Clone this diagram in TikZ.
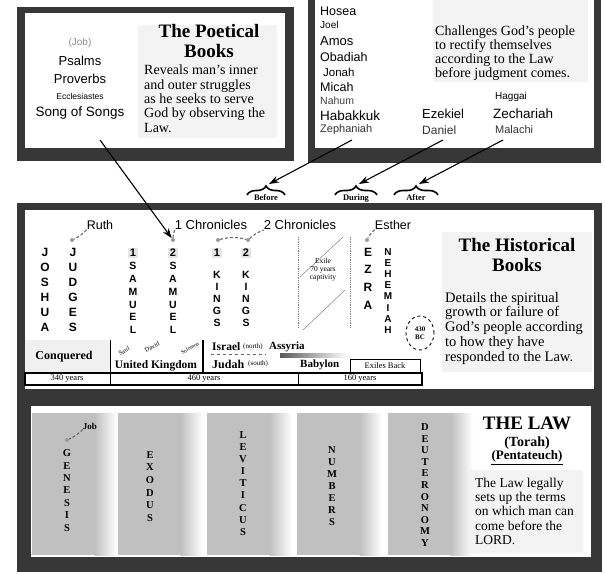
\documentclass[tikz,border=0pt]{standalone}
\usepackage{fontspec}
\setmainfont{Liberation Serif}
\newfontfamily\sansf{Liberation Sans}
\usetikzlibrary{decorations.pathreplacing,arrows.meta,shapes.geometric}
\definecolor{framec}{RGB}{55,55,55}
\definecolor{panelbg}{RGB}{243,243,243}
\definecolor{colgray}{RGB}{192,192,192}
\definecolor{dashgray}{RGB}{105,105,105}
\newcommand\fs[2]{\fontsize{#1}{#2}\selectfont}
\begin{document}
\begin{tikzpicture}[x=1pt,y=-1pt,
  panel/.style={fill=panelbg,draw=none},
  slbl/.style={font=\sansf\fs{13}{15},inner sep=0pt,anchor=west},
  vsans/.style={font=\sansf\bfseries\fs{12}{15},align=center,inner sep=0pt},
  vsanss/.style={font=\sansf\bfseries\fs{10.5}{12.8},align=center,inner sep=0pt},
  titlef/.style={font=\bfseries\fs{19}{20},align=center,inner sep=0pt},
  bodyt/.style={font=\fs{14}{14.3},align=left,anchor=north west,inner sep=0pt},
  vserif/.style={font=\bfseries\fs{10.5}{12.4},align=center,inner sep=0pt},
  link/.style={draw=dashgray,line width=1.1pt,dash pattern=on 3pt off 2pt},
  dotn/.style={circle,fill=black!40,inner sep=0pt,minimum size=4pt},
  arr/.style={line width=1.1pt,-{Stealth[length=10pt,width=7pt]}},
  brc/.style={decorate,decoration={brace,amplitude=9pt},line width=1.6pt},
  numbox/.style={fill=black!10,font=\sansf\bfseries\fs{11}{12},inner sep=1.5pt},
  tiny/.style={font=\fs{8.5}{9},inner sep=0pt},
  tbl/.style={font=\bfseries\fs{12}{13},inner sep=0pt}
]
\useasboundingbox (0,0) rectangle (605,573);
\fill[white] (0,0) rectangle (605,573);

% ---------- frames ----------
\fill[framec] (17,7) rectangle (294,161);
\fill[white] (25,13) rectangle (285,148);
\fill[framec] (308,-10) rectangle (601,163);
\fill[white] (315,-10) rectangle (594,148);
\fill[framec] (17,203) rectangle (602,572);
\fill[white] (25,210) rectangle (594,389);
\fill[white] (31,406) rectangle (591,557);

% ---------- Poetical books ----------
\fill[panelbg] (138,25) rectangle (277,138);
\node[font=\sansf\fs{10}{11},text=black!45,inner sep=0pt] (job) at (80,43) {(Job)};
\node[font=\sansf\fs{13}{15},inner sep=0pt] (psalms) at (80,61) {Psalms};
\node[font=\sansf\fs{13}{15},inner sep=0pt] (proverbs) at (80,79) {Proverbs};
\node[font=\sansf\fs{8.5}{10},inner sep=0pt] (eccl) at (80,96) {Ecclesiastes};
\node[font=\sansf\fs{13.5}{15},inner sep=0pt] (song) at (80,113) {Song of Songs};
\node[titlef] (poettitle) at (209,41) {The Poetical\\Books};
\node[bodyt] (poetbody) at (144,65) {Reveals man's inner\\and outer struggles\\as he seeks to serve\\God by observing the\\Law.};
\coordinate (poetout) at (100,140);

% ---------- Prophets ----------
\fill[panelbg] (433,-5) rectangle (588,82);
\node[bodyt,font=\fs{14}{14}] (prophbody) at (435,26) {Challenges God's people\\to rectify themselves\\according to the Law\\before judgment comes.};
\node[slbl,font=\sansf\fs{12.5}{14}] (hosea) at (320,11) {Hosea};
\node[slbl,font=\sansf\fs{10}{12}] (joel) at (320,25) {Joel};
\node[slbl,font=\sansf\fs{13}{14}] (amos) at (320,41) {Amos};
\node[slbl,font=\sansf\fs{12.5}{14}] (obadiah) at (320,57) {Obadiah};
\node[slbl,font=\sansf\fs{11.5}{14}] (jonah) at (323,72) {Jonah};
\node[slbl,font=\sansf\fs{12.5}{14}] (micah) at (320,87) {Micah};
\node[slbl,font=\sansf\fs{10.5}{12},text=black!75] (nahum) at (320,101) {Nahum};
\node[slbl,font=\sansf\fs{13.5}{14}] (habakkuk) at (320,116) {Habakkuk};
\node[slbl,font=\sansf\fs{11}{12},text=black!80] (zephaniah) at (320,130) {Zephaniah};
\node[slbl,font=\sansf\fs{13}{14}] (ezekiel) at (422,114) {Ezekiel};
\node[slbl,font=\sansf\fs{12}{14},text=black!80] (daniel) at (422,130) {Daniel};
\node[slbl,font=\sansf\fs{10}{12}] (haggai) at (495,97) {Haggai};
\node[slbl,font=\sansf\fs{13.5}{14}] (zechariah) at (493,114) {Zechariah};
\node[slbl,font=\sansf\fs{11}{12},text=black!80] (malachi) at (495,130) {Malachi};
\coordinate (zephout) at (352,140);
\coordinate (danout) at (443,140);
\coordinate (malout) at (503,140);

% ---------- Before / During / After ----------
\draw[brc] (247,195) -- (285,195);
\draw[brc] (335,195) -- (377,195);
\draw[brc] (394,195) -- (438,195);
\coordinate (btip) at (269,184);
\coordinate (dtip) at (359,184);
\coordinate (atip) at (419,184);
\node[font=\bfseries\fs{8.5}{9},inner sep=0pt] (before) at (266,198) {Before};
\node[font=\bfseries\fs{8.5}{9},inner sep=0pt] (during) at (356,198) {During};
\node[font=\bfseries\fs{8.5}{9},inner sep=0pt] (after) at (416,198) {After};

% ---------- Historical books ----------
\node[font=\sansf\fs{12.5}{14},inner sep=0pt] (ruth) at (100,225) {Ruth};
\node[font=\sansf\fs{13}{14},inner sep=0pt] (chr1) at (211,225) {1 Chronicles};
\node[font=\sansf\fs{13}{14},inner sep=0pt] (chr2) at (300,225) {2 Chronicles};
\node[font=\sansf\fs{12.5}{14},inner sep=0pt] (esther) at (393,225) {Esther};
\node[dotn] (dru) at (72,240) {};
\node[dotn] (dsa) at (173,240) {};
\node[dotn] (dk1) at (218,240) {};
\node[dotn] (dk2) at (248,240) {};
\node[dotn] (dez) at (367,240) {};
\draw[link] (ruth.south west) to[bend left=10] (dru);
\draw[link] (chr1.south west) to[bend right=10] (dsa);
\draw[link] (dk1) to[bend left=15] (dk2);
\draw[link] (dk2) to[bend left=10] (chr2.south west);
\draw[link] (esther.south west) to[bend right=10] (dez);

\node[vsans] (joshua) at (45,289.5) {J\\O\\S\\H\\U\\A};
\node[vsans] (judges) at (73,289.5) {J\\U\\D\\G\\E\\S};
\node[numbox] (n1s) at (133,253) {1};
\node[numbox] (n2s) at (173,253) {2};
\node[numbox] (n1k) at (217,253) {1};
\node[numbox] (n2k) at (246,253) {2};
\node[vsanss] (sam1) at (133,298) {S\\A\\M\\U\\E\\L};
\node[vsanss] (sam2) at (173,298) {S\\A\\M\\U\\E\\L};
\node[vsanss,font=\sansf\bfseries\fs{10.5}{12}] (kin1) at (217,299) {K\\I\\N\\G\\S};
\node[vsanss,font=\sansf\bfseries\fs{10.5}{12}] (kin2) at (246,299) {K\\I\\N\\G\\S};
\node[vsans,font=\sansf\bfseries\fs{12}{17.7}] (ezra) at (368,278.5) {E\\Z\\R\\A};
\node[vsans,font=\sansf\bfseries\fs{10}{11.1}] (nehemiah) at (388,291) {N\\E\\H\\E\\M\\I\\A\\H};

% exile zone
\draw[black!50,densely dotted,line width=0.8pt] (298,237) -- (298,328);
\draw[black!50,densely dotted,line width=0.8pt] (350,237) -- (350,328);
\draw[black!50,line width=0.5pt] (300,277) -- (343,237);
\draw[black!50,line width=0.5pt] (303,330) -- (345,290);
\node[font=\fs{7.5}{8},align=center,inner sep=0pt] (exile) at (323,270) {Exile\\70 years\\captivity};
\node[ellipse,draw,dashed,line width=0.9pt,minimum width=28pt,minimum height=34pt,inner sep=0pt,font=\bfseries\fs{7}{8},align=center] (bc) at (420,333) {430\\BC};

% title panel
\fill[panelbg] (442,232) rectangle (592,372);
\node[titlef] (histtitle) at (517,255) {The Historical\\Books};
\node[bodyt,font=\fs{14.5}{14.7}] (histbody) at (445,292) {Details the spiritual\\growth or failure of\\God's people according\\to how they have\\responded to the Law.};

% timeline
\fill[black!6] (25,340) rectangle (110,372);
\node[tbl] (conq) at (64,357) {Conquered};
\draw[line width=1pt] (110,340) -- (110,373);
\draw[line width=1.2pt] (203,340) -- (203,373);
\draw[line width=1pt] (110,372) -- (203,372);
\node[tbl,font=\bfseries\fs{11.5}{12}] (uk) at (156,366) {United Kingdom};
\node[rotate=30,font=\fs{6.5}{7},inner sep=0pt] (saul) at (124,351) {Saul};
\node[rotate=30,font=\fs{6.5}{7},inner sep=0pt] (david) at (152,347) {David};
\node[rotate=30,font=\fs{5.5}{6},inner sep=0pt] (solomon) at (190,348) {Solomon};
\node[tbl,anchor=west,font=\bfseries\fs{11.5}{12}] (israel) at (212,347) {Israel};
\node[anchor=west,font=\fs{7}{8},inner sep=0pt] (north) at (243,347) {(north)};
\node[anchor=west,font=\bfseries\fs{11}{12},inner sep=0pt] (assyria) at (269,347) {Assyria};
\draw[black!60,dashed,line width=0.8pt] (211,354) -- (266,354);
\shade[left color=black!65,right color=white] (280,353) rectangle (348,357);
\node[tbl,anchor=west,font=\bfseries\fs{12}{12}] (judah) at (212,364) {Judah};
\node[anchor=west,font=\fs{7}{8},inner sep=0pt] (south) at (248,364) {(south)};
\node[anchor=west,font=\bfseries\fs{11}{12},inner sep=0pt] (babylon) at (300,365) {Babylon};
\node[draw,line width=0.8pt,minimum width=70pt,minimum height=13pt,inner sep=0pt,font=\fs{8.5}{9}] (back) at (385,365.5) {Exiles Back};
\draw[line width=1.2pt] (25,373) rectangle (422,385);
\draw[line width=1pt] (110,373) -- (110,385);
\draw[line width=1pt] (298,373) -- (298,385);
\node[tiny] (y1) at (67,379) {340 years};
\node[tiny] (y2) at (204,379) {460 years};
\node[tiny] (y3) at (360,379) {160 years};

% ---------- The Law ----------
\foreach \s in {32,118,207,297,388}{
  \fill[colgray] (\s,413) rectangle (\s+63,555);
  \shade[left color=colgray,right color=white] (\s+62.5,413) rectangle (\s+85,555);
}
\node[vserif] (genesis) at (67,490.5) {G\\E\\N\\E\\S\\I\\S};
\node[vserif,font=\bfseries\fs{10.5}{12.6}] (exodus) at (150,486.5) {E\\X\\O\\D\\U\\S};
\node[vserif,font=\bfseries\fs{10.5}{12.1}] (leviticus) at (243,483.5) {L\\E\\V\\I\\T\\I\\C\\U\\S};
\node[vserif,font=\bfseries\fs{10.5}{12}] (numbers) at (332,486) {N\\U\\M\\B\\E\\R\\S};
\node[vserif,font=\bfseries\fs{10.5}{11.6}] (deut) at (425,485) {D\\E\\U\\T\\E\\R\\O\\N\\O\\M\\Y};
\node[font=\bfseries\fs{9}{10},inner sep=0pt] (lawjob) at (90,426) {Job};
\node[dotn] (djob) at (67,440) {};
\draw[link] (lawjob.south west) to[bend left=10] (djob);
\node[font=\bfseries\fs{19}{20},inner sep=0pt] (lawtitle) at (527,423) {THE LAW};
\node[font=\bfseries\fs{14}{15},inner sep=0pt] (torah) at (527,443) {(Torah)};
\node[font=\bfseries\fs{13}{14},inner sep=0pt] (pent) at (527,456) {(Pentateuch)};
\draw[line width=0.8pt] ([yshift=-2pt]pent.south west) -- ([yshift=-2pt]pent.south east);
\fill[panelbg] (470,470) rectangle (583,553);
\node[bodyt,font=\fs{13.5}{14.2}] (lawbody) at (475,478) {The Law legally\\sets up the terms\\on which man can\\come before the\\LORD.};

% ---------- arrows ----------
\draw[arr] (poetout) -- (dsa);
\draw[arr] (zephout) -- (btip);
\draw[arr] (danout) -- (dtip);
\draw[arr] (malout) -- (atip);
\end{tikzpicture}
\end{document}
